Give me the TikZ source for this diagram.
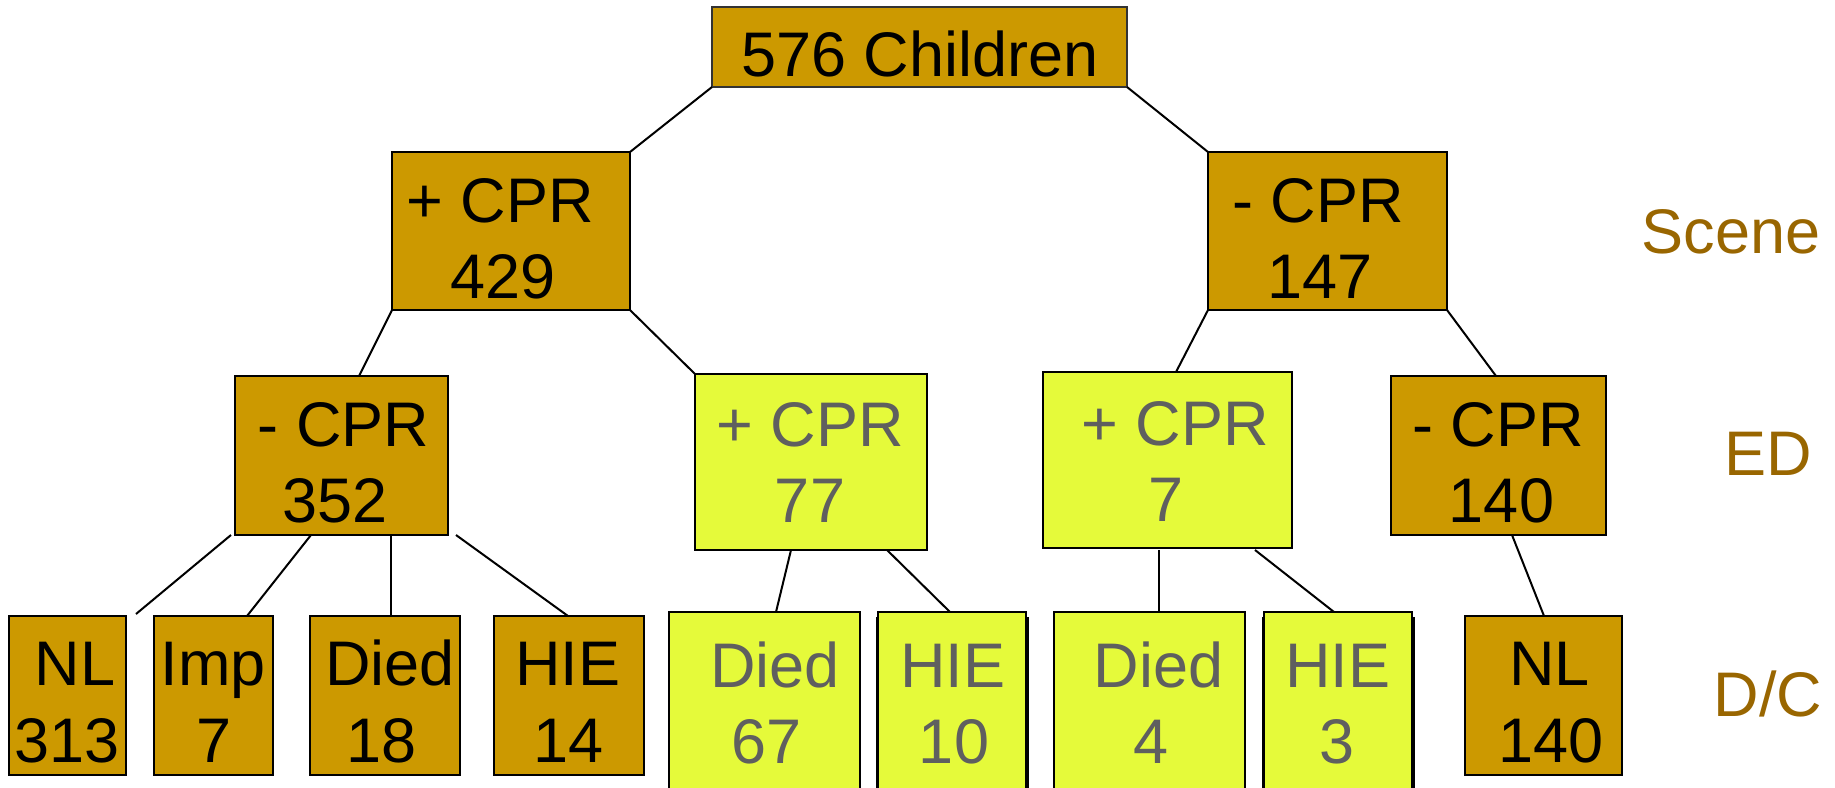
\documentclass[tikz,border=0pt]{standalone}
\usepackage{fontspec}
\setmainfont{Liberation Sans}
\usetikzlibrary{fit,calc}
\definecolor{brn}{HTML}{CC9900}
\definecolor{ylw}{HTML}{E5FA3A}
\definecolor{gry}{HTML}{5F5F5F}
\definecolor{lbl}{HTML}{996600}
\newcommand\twoline[8]{%
  \node[#8] (#1a) at (#2,#4) {#6};
  \node[#8] (#1b) at (#3,#5) {#7};}
\begin{document}
\begin{tikzpicture}[x=0.5pt,y=-0.5pt,
  brownbox/.style={draw=black, line width=1pt, fill=brn, inner sep=0pt, outer sep=0pt},
  yellowbox/.style={draw=black, line width=1pt, fill=ylw, inner sep=0pt, outer sep=0pt},
  shadowbox/.style={fill=black, draw=none, inner sep=0pt, outer sep=0pt},
  txt/.style={font=\fontsize{31.5}{37}\selectfont, anchor=base, inner sep=0pt},
  gtxt/.style={txt, text=gry},
  lev/.style={txt, text=lbl},
  conn/.style={line width=1pt, draw=black}]
\useasboundingbox (0,0) rectangle (1835,787);

% boxes
\node[brownbox, draw=black!80, fit={(712,7) (1127,87)}] (top) {};
\node[brownbox, fit={(392,152) (630,310)}] (p429) {};
\node[brownbox, fit={(1208,152) (1447,310)}] (m147) {};
\node[brownbox, fit={(235,376) (448,535)}] (m352) {};
\node[yellowbox, fit={(695,374) (927,550)}] (p77) {};
\node[yellowbox, fit={(1043,372) (1292,548)}] (p7) {};
\node[brownbox, fit={(1391,376) (1606,535)}] (m140) {};
\node[brownbox, fit={(9,616) (126,775)}] (nl313) {};
\node[brownbox, fit={(154,616) (273,775)}] (imp7) {};
\node[brownbox, fit={(310,616) (460,775)}] (d18) {};
\node[brownbox, fit={(494,616) (644,775)}] (h14) {};
\node[yellowbox, fit={(669,612) (860,800)}] (d67) {};
\node[shadowbox, fit={(876,617) (1029,800)}] (h10s) {};
\node[yellowbox, fit={(878,612) (1026,800)}] (h10) {};
\node[yellowbox, fit={(1054,612) (1245,800)}] (d4) {};
\node[shadowbox, fit={(1262,617) (1415,800)}] (h3s) {};
\node[yellowbox, fit={(1264,612) (1412,800)}] (h3) {};
\node[brownbox, fit={(1465,616) (1622,775)}] (nl140) {};

% connectors
\draw[conn] (top.south west) -- (p429.north east);
\draw[conn] (top.south east) -- (m147.north west);
\draw[conn] (p429.south west) -- ($(m352.north west)+(124,0)$);
\draw[conn] (p429.south east) -- (p77.north west);
\draw[conn] (m147.south west) -- ($(p7.north west)+(133,0)$);
\draw[conn] (m147.south east) -- ($(m140.north west)+(105,0)$);
\draw[conn] ($(m352.south west)+(-4,0)$) -- ($(nl313.north east)+(10,-2)$);
\draw[conn] ($(m352.south west)+(76,0)$) -- ($(imp7.north west)+(93,0)$);
\draw[conn] ($(m352.south west)+(156,0)$) -- ($(d18.north west)+(81,0)$);
\draw[conn] ($(m352.south east)+(8,0)$) -- ($(h14.north west)+(74,0)$);
\draw[conn] ($(p77.south west)+(96,0)$) -- ($(d67.north west)+(107,0)$);
\draw[conn] ($(p77.south west)+(192,0)$) -- ($(h10.north west)+(72,0)$);
\draw[conn] ($(p7.south west)+(116,2)$) -- ($(d4.north west)+(105,0)$);
\draw[conn] ($(p7.south west)+(212,2)$) -- ($(h3.north west)+(70,0)$);
\draw[conn] ($(m140.south west)+(121,0)$) -- ($(nl140.north west)+(79,0)$);

% texts
\node[txt] (topt) at (920,76) {576 Children};
\twoline{t429}{500}{503}{222}{298}{+ CPR}{429}{txt}
\twoline{t147}{1318}{1320}{222}{298}{- CPR}{147}{txt}
\twoline{t352}{343.5}{335}{446}{522}{- CPR}{352}{txt}
\twoline{t77}{810}{810}{446}{522}{+ CPR}{77}{gtxt}
\twoline{t7}{1175}{1166}{445}{521}{+ CPR}{7}{gtxt}
\twoline{t140}{1498}{1501.5}{446}{522}{- CPR}{140}{txt}
\twoline{t313}{75}{66.7}{685}{762}{NL}{313}{txt}
\twoline{timp}{213}{214}{685}{762}{Imp}{7}{txt}
\twoline{t18}{390}{381.5}{685}{762}{Died}{18}{txt}
\twoline{t14}{568}{569}{685}{762}{HIE}{14}{txt}
\twoline{t67}{775}{766.5}{687}{763}{Died}{67}{gtxt}
\twoline{t10}{952.6}{954}{687}{763}{HIE}{10}{gtxt}
\twoline{t4}{1158.6}{1151}{687}{763}{Died}{4}{gtxt}
\twoline{t3}{1337.6}{1337}{687}{763}{HIE}{3}{gtxt}
\twoline{tnl140}{1549.5}{1550.6}{685}{762}{NL}{140}{txt}

% level labels
\node[lev] (scene) at (1731,253) {Scene};
\node[lev] (ed) at (1768,475) {ED};
\node[lev] (dc) at (1768,716) {D/C};
\end{tikzpicture}
\end{document}
